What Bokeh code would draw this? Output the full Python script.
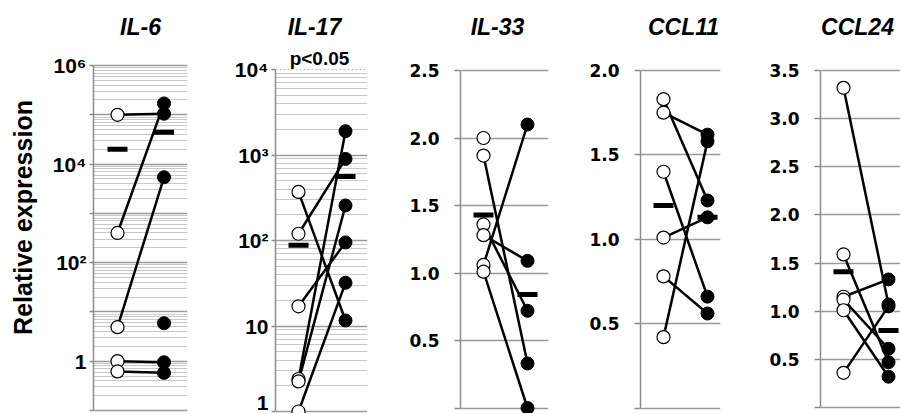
from bokeh.plotting import figure
from bokeh.layouts import row
from bokeh.models import Range1d, FixedTicker, CustomJSTickFormatter, Label, Span
from bokeh.embed import file_html
from bokeh.resources import INLINE
import math

# ---------------- data ----------------
genes = ["IL-6", "IL-17", "IL-33", "CCL11", "CCL24"]

# IL-6 (log axis)
il6_before = [1.0e5, 400, 4.9, 1.0, 0.62]
il6_after = [1.05e5, 1.7e5, 5400, 0.95, 0.58]
il6_before_single = []
il6_after_single = [5.9]
il6_mean = [2.0e4, 4.4e4]
il6_ticks = [0.1, 1, 10, 100, 1e3, 1e4, 1e5, 1e6]
il6_tick_labels = ["", "1", "", "10²", "", "10⁴", "", "10⁶"]

# IL-17 (log axis)
il17_before = [370, 120, 17, 2.4, 2.25, 1.0]
il17_after = [11.6, 900, 95, 1900, 257, 32]
il17_before_single = []
il17_after_single = []
il17_mean = [88, 560]
il17_ticks = [1, 10, 100, 1e3, 1e4]
il17_tick_labels = ["1", "10", "10²", "10³", "10⁴"]
il17_note = "p<0.05"

# IL-33
il33_before = [1.87, 1.36, 1.28, 1.06, 1.01]
il33_after = [0.33, 0.72, 1.09, 2.10, 0.0]
il33_before_single = [2.0]
il33_after_single = []
il33_mean = [1.43, 0.84]
il33_ticks = [0, 0.5, 1.0, 1.5, 2.0, 2.5]
il33_tick_labels = ["", "0.5", "1.0", "1.5", "2.0", "2.5"]

# CCL11
ccl11_before = [1.83, 1.75, 1.40, 1.01, 0.78, 0.42]
ccl11_after = [1.23, 1.62, 0.66, 1.13, 0.56, 1.58]
ccl11_before_single = []
ccl11_after_single = []
ccl11_mean = [1.20, 1.13]
ccl11_ticks = [0, 0.5, 1.0, 1.5, 2.0]
ccl11_tick_labels = ["", "0.5", "1.0", "1.5", "2.0"]

# CCL24
ccl24_before = [3.32, 1.59, 1.15, 1.12, 1.01, 0.36]
ccl24_after = [1.07, 0.47, 1.33, 0.61, 0.32, 1.05]
ccl24_before_single = []
ccl24_after_single = []
ccl24_mean = [1.41, 0.80]
ccl24_ticks = [0, 0.5, 1.0, 1.5, 2.0, 2.5, 3.0, 3.5]
ccl24_tick_labels = ["", "0.5", "1.0", "1.5", "2.0", "2.5", "3.0", "3.5"]

y_label = "Relative expression"

# ---------------- layout / style ----------------
FONT = "Liberation Sans"
PAGE = 0          # the Bokeh page template uses no body margin
FIG_H = 413
FRAME_TOP = PAGE
FRAME_BOTTOM = PAGE + FIG_H  # page px
MAJOR = "#9a9a9a"
MINOR = "#c8c8c8"
AXIS = "#8c8c8c"

fmt_code = """
for (let i = 0; i < vals.length; i++) {
  if (Math.abs(vals[i] - tick) <= 1e-6 * Math.max(1e-3, Math.abs(vals[i]))) return labs[i];
}
return "";
"""


def make_panel(name, before, after, before_single, after_single, mean, ticks, tick_labels,
               log, fig_left, fig_right, axis_px, right_px, open_px, filled_px,
               top_px, bot_px, title_px, note=None):
    top_val, bot_val = ticks[-1], ticks[0]
    tv = math.log10(top_val) if log else top_val
    bv = math.log10(bot_val) if log else bot_val
    s = (bot_px - top_px) / (tv - bv)  # px per unit (or per decade)
    ye = tv + (top_px - FRAME_TOP) / s
    ys = bv - (FRAME_BOTTOM - bot_px) / s

    def to_val(py):
        v = bv + (bot_px - py) / s
        return 10 ** v if log else v

    if log:
        ye, ys = 10 ** ye, 10 ** ys
    unit = filled_px - open_px
    xs = 0.5 - (open_px - axis_px) / unit
    xe = xs + (right_px - axis_px) / unit

    p = figure(width=fig_right - fig_left, height=FIG_H,
               x_range=Range1d(xs, xe), y_range=Range1d(ys, ye),
               y_axis_type="log" if log else "linear",
               output_backend="svg", toolbar_location=None,
               min_border_left=axis_px - fig_left, min_border_right=fig_right - right_px,
               min_border_top=0, min_border_bottom=0)
    p.outline_line_color = None
    p.background_fill_color = "white"
    p.border_fill_color = "white"
    p.xaxis.visible = False
    p.xgrid.visible = False

    if log:
        minor = []
        for k in range(int(round(bv)), int(round(tv))):
            for m in range(2, 10):
                minor.append(m * 10 ** k)
        grid_major = [t for t in ticks if not (note and t == ticks[-1])]
        grid_ticker = FixedTicker(ticks=grid_major, minor_ticks=minor)
    else:
        grid_ticker = FixedTicker(ticks=ticks, minor_ticks=[])
    ax = p.yaxis[0]
    ax.ticker = FixedTicker(ticks=ticks, minor_ticks=[])
    ax.bounds = (bot_val, top_val)
    ax.formatter = CustomJSTickFormatter(args=dict(vals=ticks, labs=tick_labels), code=fmt_code)
    ax.axis_line_color = AXIS
    ax.axis_line_width = 1.5
    ax.major_tick_line_color = AXIS
    ax.major_tick_line_width = 1.5
    ax.major_tick_in = 0
    ax.minor_tick_line_color = None
    if log:
        ax.major_tick_out = 4
        ax.major_label_standoff = 3
        ax.major_label_text_font = FONT
        ax.major_label_text_font_size = "21px"
    else:
        ax.major_tick_out = 6
        ax.major_label_standoff = 15
        ax.major_label_text_font = "DejaVu Sans"
        ax.major_label_text_font_size = "17px"
    ax.major_label_text_font_style = "bold"
    ax.major_label_text_color = "black"

    g = p.ygrid[0]
    g.ticker = grid_ticker
    g.grid_line_color = MAJOR
    g.grid_line_width = 1.5
    if log:
        g.minor_grid_line_color = MINOR
        g.minor_grid_line_width = 1
    if note:
        p.add_layout(Span(location=ticks[-1], dimension="width", line_color="#bdbdbd",
                          line_width=1.2, line_dash="2 2"))

    n = len(before)
    p.segment(x0=[0.5] * n, y0=before, x1=[1.5] * n, y1=after,
              line_color="black", line_width=2.5)
    ob = list(before) + list(before_single)
    fa = list(after) + list(after_single)
    p.scatter(x=[0.5] * len(ob), y=ob, size=13, marker="circle",
              fill_color="white", line_color="black", line_width=1.2)
    p.scatter(x=[1.5] * len(fa), y=fa, size=13, marker="circle",
              fill_color="black", line_color="black", line_width=1)
    p.rect(x=[0.5, 1.5], y=mean, width=20, height=5, width_units="screen",
           height_units="screen", fill_color="black", line_color=None)

    tx = xs + (title_px - axis_px) / unit
    p.add_layout(Label(x=tx, y=to_val(26), text=name, text_align="center",
                       text_baseline="middle", text_font=FONT, text_font_size="23px",
                       text_font_style="bold italic", text_color="black"))
    if note:
        nx = xs + (319 - axis_px) / unit
        p.add_layout(Label(x=nx, y=to_val(58), text=note, text_align="center",
                           text_baseline="middle", text_font=FONT, text_font_size="19px",
                           text_font_style="bold", text_color="black"))
    return p


# y-axis title in its own narrow strip
LAB_W = 44
p0 = figure(width=LAB_W, height=FIG_H, x_range=Range1d(0, 1), y_range=Range1d(0, 1),
            output_backend="svg", toolbar_location=None,
            min_border_left=0, min_border_right=0, min_border_top=0, min_border_bottom=0)
p0.axis.visible = False
p0.grid.visible = False
p0.outline_line_color = None
p0.add_layout(Label(x=(22 - PAGE) / LAB_W, y=(FRAME_BOTTOM - 217) / FIG_H, text=y_label,
                    angle=math.pi / 2, text_align="center", text_baseline="middle",
                    text_font=FONT, text_font_size="25px", text_font_style="bold",
                    text_color="black"))

x0 = PAGE + LAB_W
p1 = make_panel(genes[0], il6_before, il6_after, il6_before_single, il6_after_single, il6_mean,
                il6_ticks, il6_tick_labels, True, x0, 188, 93, 187, 117, 163.5, 65, 410, 140)
p2 = make_panel(genes[1], il17_before, il17_after, il17_before_single, il17_after_single, il17_mean,
                il17_ticks, il17_tick_labels, True, 188, 368, 275, 367, 298, 345, 69, 411, 314,
                note=il17_note)
p3 = make_panel(genes[2], il33_before, il33_after, il33_before_single, il33_after_single, il33_mean,
                il33_ticks, il33_tick_labels, False, 368, 549, 460, 548, 483, 527, 70, 407.5, 497)
p4 = make_panel(genes[3], ccl11_before, ccl11_after, ccl11_before_single, ccl11_after_single, ccl11_mean,
                ccl11_ticks, ccl11_tick_labels, False, 549, 721, 640, 720, 663, 707, 70, 407.5, 683)
p5 = make_panel(genes[4], ccl24_before, ccl24_after, ccl24_before_single, ccl24_after_single, ccl24_mean,
                ccl24_ticks, ccl24_tick_labels, False, 721, 900, 820, 900, 843, 888, 70, 407, 857)

layout = row(p0, p1, p2, p3, p4, p5, spacing=0)
open("out.html", "w").write(file_html(layout, INLINE))
